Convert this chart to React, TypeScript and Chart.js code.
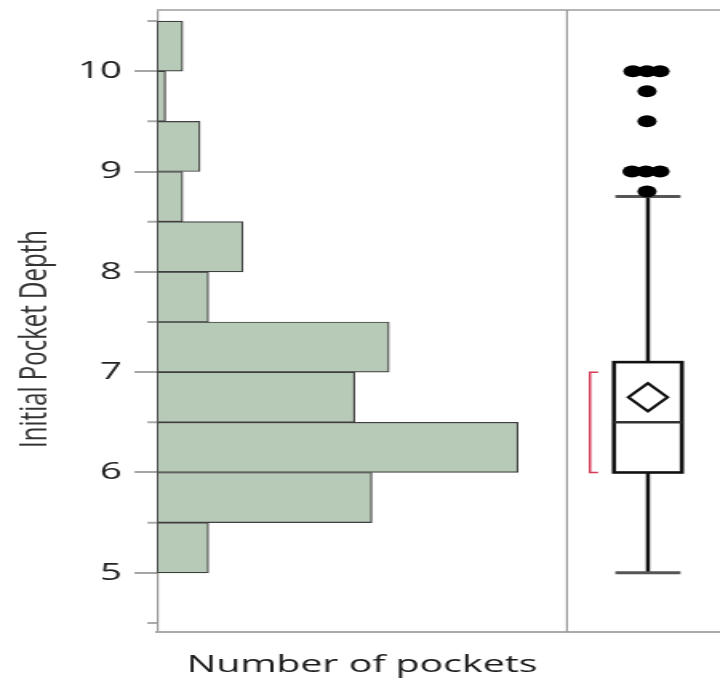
import React, { useEffect, useRef } from 'react';
import { Chart, registerables } from 'chart.js';

Chart.register(...registerables);

// ---- Data ----
const binCenters = [5.25, 5.75, 6.25, 6.75, 7.25, 7.75, 8.25, 8.75, 9.25, 9.75, 10.25];
const binCounts = [6, 25, 42, 23, 27, 6, 10, 3, 5, 1, 3];
const depthTicks = [4.5, 5, 5.5, 6, 6.5, 7, 7.5, 8, 8.5, 9, 9.5, 10, 10.5];
const depthMin = 4.41;
const depthMax = 10.61;
const countMax = 47.7;

const outlierDepths = [10, 10, 10, 9.8, 9.5, 9, 9, 9, 8.8];
const outlierJitter = [0.431, 0.523, 0.608, 0.523, 0.523, 0.425, 0.516, 0.608, 0.523];

const boxQ1 = 6;
const boxMedian = 6.5;
const boxQ3 = 7.1;
const whiskerLow = 5;
const whiskerHigh = 8.75;
const meanValue = 6.75;
const meanCiLow = 6.61;
const meanCiHigh = 6.89;
const shortestHalf = [6, 7];

// box panel horizontal layout (fractions of the box panel axis)
const boxCenter = 0.529;
const boxHalf = 0.222;
const capHalf = 0.213;
const diamondHalf = 0.128;
const bracketX = 0.15;
const bracketTick = 0.053;

const STRETCH = 1.6;
const W = 720 / STRETCH;
const H = 686;

const FONT = "'Open Sans', 'DejaVu Sans', sans-serif";

const boxPlugin = {
  id: 'boxplotPanel',
  beforeDatasetsDraw(chart: any) {
    const { ctx } = chart;
    const xs = chart.scales.x2;
    const ys = chart.scales.y;
    const X = (v: number) => xs.getPixelForValue(v);
    const Y = (v: number) => ys.getPixelForValue(v);
    ctx.save();
    ctx.lineCap = 'butt';
    // whiskers
    ctx.strokeStyle = '#111';
    ctx.lineWidth = 2.5;
    ctx.beginPath();
    ctx.moveTo(X(boxCenter), Y(boxQ3));
    ctx.lineTo(X(boxCenter), Y(whiskerHigh));
    ctx.moveTo(X(boxCenter), Y(boxQ1));
    ctx.lineTo(X(boxCenter), Y(whiskerLow));
    ctx.stroke();
    // caps
    ctx.strokeStyle = '#555';
    ctx.lineWidth = 3;
    ctx.beginPath();
    ctx.moveTo(X(boxCenter - capHalf), Y(whiskerHigh));
    ctx.lineTo(X(boxCenter + capHalf), Y(whiskerHigh));
    ctx.moveTo(X(boxCenter - capHalf), Y(whiskerLow));
    ctx.lineTo(X(boxCenter + capHalf), Y(whiskerLow));
    ctx.stroke();
    // box
    ctx.fillStyle = '#fff';
    const bx = X(boxCenter - boxHalf);
    const bw = X(boxCenter + boxHalf) - bx;
    const by = Y(boxQ3);
    const bh = Y(boxQ1) - by;
    ctx.fillRect(bx, by, bw, bh);
    ctx.strokeStyle = '#111';
    ctx.lineWidth = 2.6;
    ctx.strokeRect(bx, by, bw, bh);
    // median
    ctx.strokeStyle = '#333';
    ctx.lineWidth = 2.5;
    ctx.beginPath();
    ctx.moveTo(bx, Y(boxMedian));
    ctx.lineTo(bx + bw, Y(boxMedian));
    ctx.stroke();
    // mean diamond
    ctx.strokeStyle = '#111';
    ctx.lineWidth = 2.2;
    ctx.beginPath();
    ctx.moveTo(X(boxCenter - diamondHalf), Y(meanValue));
    ctx.lineTo(X(boxCenter), Y(meanCiHigh));
    ctx.lineTo(X(boxCenter + diamondHalf), Y(meanValue));
    ctx.lineTo(X(boxCenter), Y(meanCiLow));
    ctx.closePath();
    ctx.stroke();
    // shortest half bracket
    ctx.strokeStyle = '#d33a55';
    ctx.lineWidth = 1.5;
    ctx.beginPath();
    ctx.moveTo(X(bracketX + bracketTick), Y(shortestHalf[1]));
    ctx.lineTo(X(bracketX), Y(shortestHalf[1]));
    ctx.lineTo(X(bracketX), Y(shortestHalf[0]));
    ctx.lineTo(X(bracketX + bracketTick), Y(shortestHalf[0]));
    ctx.stroke();
    ctx.restore();
  },
  afterDraw(chart: any) {
    const { ctx, chartArea } = chart;
    const ys = chart.scales.y;
    ctx.save();
    // top frame line
    ctx.strokeStyle = '#b5b5b5';
    ctx.lineWidth = 2;
    ctx.beginPath();
    ctx.moveTo(chartArea.left, chartArea.top);
    ctx.lineTo(chartArea.right, chartArea.top);
    ctx.stroke();
    // divider between panels
    const dx = chart.scales.x.right;
    ctx.strokeStyle = '#999';
    ctx.lineWidth = 1.2;
    ctx.beginPath();
    ctx.moveTo(dx, chartArea.top);
    ctx.lineTo(dx, chartArea.bottom);
    ctx.stroke();
    // minor ticks
    ctx.strokeStyle = '#aaa';
    ctx.lineWidth = 2;
    ctx.beginPath();
    depthTicks.forEach((v) => {
      if (!Number.isInteger(v)) {
        const y = ys.getPixelForValue(v);
        ctx.moveTo(chartArea.left - 6, y);
        ctx.lineTo(chartArea.left, y);
      }
    });
    ctx.stroke();
    ctx.restore();
  },
};

export default function App() {
  const ref = useRef<HTMLCanvasElement>(null);
  useEffect(() => {
    const chart = new Chart(ref.current as HTMLCanvasElement, {
      type: 'bar',
      data: {
        datasets: [
          {
            type: 'bar',
            indexAxis: 'y',
            data: binCenters.map((c, i) => ({ x: binCounts[i], y: c })),
            xAxisID: 'x',
            yAxisID: 'y',
            backgroundColor: '#b7c9b7',
            borderColor: '#3f3f3f',
            borderWidth: 1.2,
            borderSkipped: false,
            barPercentage: 1,
            categoryPercentage: 1,
          } as any,
          {
            type: 'scatter',
            data: outlierDepths.map((d, i) => ({ x: outlierJitter[i], y: d })),
            xAxisID: 'x2',
            yAxisID: 'y',
            pointRadius: 6,
            pointHoverRadius: 6,
            backgroundColor: '#000',
            borderWidth: 0,
          } as any,
        ],
      },
      options: {
        animation: false,
        responsive: true,
        maintainAspectRatio: false,
        indexAxis: 'y',
        layout: { autoPadding: false, padding: { top: 10, left: 0, right: 0, bottom: 0 } },
        plugins: { legend: { display: false }, tooltip: { enabled: false } },
        scales: {
          y: {
            type: 'linear',
            position: 'left',
            offset: false,
            min: depthMin,
            max: depthMax,
            afterBuildTicks: (s: any) => {
              s.ticks = depthTicks.map((v) => ({ value: v }));
            },
            afterFit: (s: any) => {
              s.width = 98.1;
              s.paddingTop = 0;
              s.paddingBottom = 0;
            },
            afterUpdate: (s: any) => {
              if (!s.__shifted) {
                const orig = s.drawTitle.bind(s);
                s.drawTitle = (...args: any[]) => {
                  s.ctx.save();
                  s.ctx.translate(0, 18);
                  orig(...args);
                  s.ctx.restore();
                };
                s.__shifted = true;
              }
            },
            ticks: {
              autoSkip: false,
              callback: (v: any) => (Number.isInteger(v) ? String(v) : ''),
              font: { family: FONT, size: 24 },
              color: '#222',
              padding: 8,
            },
            grid: {
              offset: false,
              drawOnChartArea: false,
              drawTicks: true,
              tickLength: 14,
              lineWidth: 2,
              color: (c: any) => (c.tick && Number.isInteger(c.tick.value) ? '#a5a5a5' : 'rgba(0,0,0,0)'),
            },
            border: { display: true, color: '#999', width: 1.2 },
            title: {
              display: true,
              text: 'Initial Pocket Depth',
              font: { family: FONT, size: 24 },
              color: '#333',
              padding: { top: 7.6, bottom: 0 },
            },
          },
          x: {
            type: 'linear',
            position: 'bottom',
            offset: false,
            stack: 'bottomStack',
            stackWeight: 256.3,
            min: 0,
            max: countMax,
            beginAtZero: true,
            ticks: { display: false },
            grid: { display: false, offset: false },
            border: { display: true, color: '#aaa', width: 2 },
            title: {
              display: true,
              text: 'Number of pockets',
              font: { family: FONT, size: 24.5 },
              color: '#1a1a1a',
              padding: { top: 0, bottom: 6.6 },
            },
            afterFit: (s: any) => {
              s.height = 54;
              s.paddingLeft = 0;
              s.paddingRight = 0;
            },
          },
          x2: {
            type: 'linear',
            position: 'bottom',
            offset: false,
            stack: 'bottomStack',
            stackWeight: 95.6,
            min: 0,
            max: 1,
            ticks: { display: false },
            grid: { display: false, offset: false },
            border: { display: true, color: '#aaa', width: 2 },
            afterFit: (s: any) => {
              s.height = 54;
              s.paddingLeft = 0;
              s.paddingRight = 0;
            },
          },
        } as any,
      },
      plugins: [boxPlugin],
    });
    return () => chart.destroy();
  }, []);

  return (
    <div style={{ position: 'absolute', left: 0, top: 0, width: 720, height: H, overflow: 'hidden', background: '#fff' }}>
      <div
        style={{
          position: 'absolute',
          left: 0,
          top: 0,
          width: W,
          height: H,
          transform: `scaleX(${STRETCH})`,
          transformOrigin: '0 0',
        }}
      >
        <canvas ref={ref} />
      </div>
    </div>
  );
}
